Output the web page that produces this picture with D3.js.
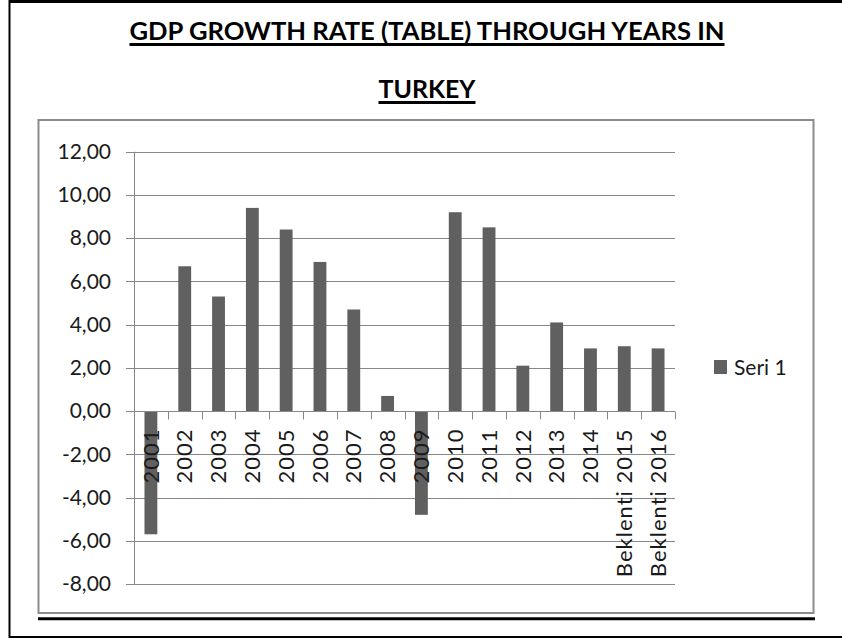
<!DOCTYPE html>
<html>
<head>
<meta charset="utf-8">
<script src="https://cdn.jsdelivr.net/npm/d3@7"></script>
<style>
  body { margin: 0; background: #fff; }
  svg { display: block; font-family: Lato, "Open Sans", sans-serif; }
</style>
</head>
<body>
<div id="chart"></div>
<script>
// данные
const titleLines = ["GDP GROWTH RATE (TABLE) THROUGH YEARS IN", "TURKEY"];
const categories = ["2001", "2002", "2003", "2004", "2005", "2006", "2007", "2008",
  "2009", "2010", "2011", "2012", "2013", "2014", "Beklenti 2015", "Beklenti 2016"];
const growth = [-5.7, 6.7, 5.3, 9.4, 8.4, 6.9, 4.7, 0.7, -4.8, 9.2, 8.5, 2.1, 4.1, 2.9, 3.0, 2.9];
const yTicks = [-8, -6, -4, -2, 0, 2, 4, 6, 8, 10, 12];
const legendItems = ["Seri 1"];

const W = 842, H = 639;
const plot = { left: 134, right: 675, top: 151.7, bottom: 584 };
const barColor = "#606060", gridColor = "#878787";

const svg = d3.select("#chart").append("svg")
  .attr("width", W).attr("height", H);

// рамка страницы
svg.append("line").attr("x1", 9).attr("x2", W).attr("y1", 1.5).attr("y2", 1.5)
  .attr("stroke", "#000").attr("stroke-width", 3);
svg.append("line").attr("x1", 9.5).attr("x2", 9.5).attr("y1", 0).attr("y2", 638)
  .attr("stroke", "#000").attr("stroke-width", 2);
svg.append("line").attr("x1", 9).attr("x2", W).attr("y1", 637).attr("y2", 637)
  .attr("stroke", "#000").attr("stroke-width", 2);

// заголовок
const titleY = [40, 98];
const titleW = [595, 97];
titleLines.forEach((t, i) => {
  svg.append("text")
    .attr("x", 427).attr("y", titleY[i])
    .attr("text-anchor", "middle")
    .attr("font-weight", "bold").attr("font-size", 25)
    .attr("textLength", titleW[i]).attr("lengthAdjust", "spacingAndGlyphs")
    .attr("fill", "#000")
    .text(t);
  svg.append("line")
    .attr("x1", 427 - titleW[i] / 2).attr("x2", 427 + titleW[i] / 2)
    .attr("y1", titleY[i] + 4.5).attr("y2", titleY[i] + 4.5)
    .attr("stroke", "#000").attr("stroke-width", 3);
});

// рамка диаграммы
svg.append("rect")
  .attr("x", 38.5).attr("y", 120).attr("width", 775).attr("height", 493)
  .attr("fill", "none").attr("stroke", "#8c8c8c").attr("stroke-width", 2);
svg.append("line").attr("x1", 38).attr("x2", 815).attr("y1", 618.7).attr("y2", 618.7)
  .attr("stroke", "#000").attr("stroke-width", 3);

// шкалы
const y = d3.scaleLinear().domain([-8, 12]).range([plot.bottom, plot.top]);
const xSlot = d3.scaleBand().domain(categories).range([plot.left, plot.right]);
const xBar = d3.scaleBand().domain(categories).range([plot.left, plot.right])
  .paddingInner(0.62).paddingOuter(0.31);

const locale = d3.formatLocale({ decimal: ",", thousands: ".", grouping: [3], currency: ["", ""], minus: "-" });
const fmt = locale.format(".2f");

// сетка
svg.append("g").selectAll("line").data(yTicks).join("line")
  .attr("x1", plot.left - 8).attr("x2", plot.right)
  .attr("y1", d => Math.round(y(d)) + 0.5).attr("y2", d => Math.round(y(d)) + 0.5)
  .attr("stroke", gridColor).attr("stroke-width", 1);

// ось Y
const yAxis = svg.append("g")
  .attr("transform", `translate(${plot.left - 8},0)`)
  .call(d3.axisLeft(y).tickValues(yTicks).tickFormat(fmt).tickSize(0).tickPadding(15));
yAxis.select(".domain").remove();
yAxis.selectAll("text").attr("font-size", 21).attr("fill", "#1a1a1a")
  .attr("font-family", "Lato, sans-serif");

svg.append("line")
  .attr("x1", plot.left + 0.5).attr("x2", plot.left + 0.5)
  .attr("y1", y(12)).attr("y2", y(-8))
  .attr("stroke", gridColor).attr("stroke-width", 1);

// столбцы
svg.append("g").selectAll("rect").data(growth).join("rect")
  .attr("x", (d, i) => xBar(categories[i]))
  .attr("width", xBar.bandwidth())
  .attr("y", d => y(Math.max(0, d)))
  .attr("height", d => Math.abs(y(d) - y(0)))
  .attr("fill", barColor);

// ось X (по нулю)
const y0 = Math.round(y(0)) + 0.5;
svg.append("line").attr("x1", plot.left).attr("x2", plot.right)
  .attr("y1", y0).attr("y2", y0).attr("stroke", gridColor);
svg.append("g").selectAll("line")
  .data(categories.map(c => xSlot(c) + xSlot.bandwidth()))
  .join("line")
  .attr("x1", d => Math.round(d) + 0.5).attr("x2", d => Math.round(d) + 0.5)
  .attr("y1", y0).attr("y2", y0 + 8)
  .attr("stroke", gridColor);

svg.append("g").selectAll("text").data(categories).join("text")
  .attr("transform", d => `translate(${xSlot(d) + xSlot.bandwidth() / 2},${y0 + 17}) rotate(-90)`)
  .attr("text-anchor", "end").attr("dy", "0.35em")
  .attr("font-size", 22).attr("letter-spacing", 1).attr("fill", "#1a1a1a")
  .text(d => d);

// легенда
const legend = svg.append("g").selectAll("g").data(legendItems).join("g")
  .attr("transform", (d, i) => `translate(714,${360 + i * 24})`);
legend.append("rect").attr("width", 13).attr("height", 14).attr("fill", barColor);
legend.append("text").attr("x", 20).attr("y", 14.5)
  .attr("font-size", 21).attr("fill", "#1a1a1a").text(d => d);
</script>
</body>
</html>
